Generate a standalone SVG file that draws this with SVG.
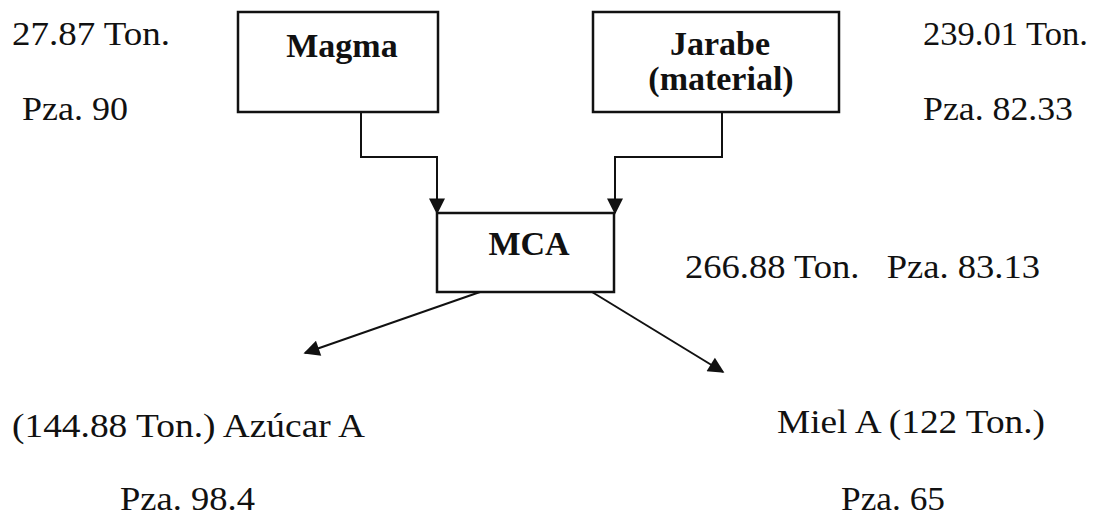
<svg xmlns="http://www.w3.org/2000/svg" width="1109" height="517" viewBox="0 0 1109 517">
<defs>
<style>
.box{fill:#fff;stroke:#111;stroke-width:2.5}
.lbl{font-family:"Liberation Serif","Times New Roman",serif;font-weight:bold;font-size:34px;fill:#111;text-anchor:middle}
.t{font-family:"Liberation Serif","Times New Roman",serif;font-size:33px;fill:#111}
.c{fill:none;stroke:#111;stroke-width:2}
</style>
<marker id="ah" viewBox="0 0 10 10" refX="9" refY="5" markerWidth="9" markerHeight="9" markerUnits="userSpaceOnUse" orient="auto">
<path d="M0,0 L10,5 L0,10 Z" fill="#111"/>
</marker>
<marker id="ah2" viewBox="0 0 10 10" refX="9" refY="5" markerWidth="20" markerHeight="16" markerUnits="userSpaceOnUse" orient="auto">
<path d="M0,0 L10,5 L0,10 Z" fill="#111"/>
</marker>
</defs>
<rect width="1109" height="517" fill="#fff"/>
<g id="magma">
<rect class="box" x="238" y="12" width="200" height="100"/>
<text class="lbl" x="342" y="57">Magma</text>
</g>
<g id="jarabe">
<rect class="box" x="593" y="12" width="246" height="100"/>
<text class="lbl" x="720" y="55">Jarabe</text>
<text class="lbl" x="721" y="90">(material)</text>
</g>
<g id="mca">
<rect class="box" x="437" y="213" width="177" height="79"/>
<text class="lbl" x="529" y="255">MCA</text>
</g>
<g id="connectors">
<path class="c" d="M361,112 V157 H437 V213" marker-end="url(#ah2)"/>
<path class="c" d="M722,112 V157 H615 V213" marker-end="url(#ah2)"/>
<path class="c" d="M480,292 L305,353" marker-end="url(#ah2)"/>
<path class="c" d="M592,292 L723,372" marker-end="url(#ah2)"/>
</g>
<g id="labels">
<text class="t" x="12" y="45" textLength="158" lengthAdjust="spacingAndGlyphs">27.87 Ton.</text>
<text class="t" x="22" y="120" textLength="106" lengthAdjust="spacingAndGlyphs">Pza. 90</text>
<text class="t" x="923" y="45" textLength="165" lengthAdjust="spacingAndGlyphs">239.01 Ton.</text>
<text class="t" x="923" y="120" textLength="150" lengthAdjust="spacingAndGlyphs">Pza. 82.33</text>
<text class="t" x="685" y="278" xml:space="preserve" textLength="355" lengthAdjust="spacingAndGlyphs">266.88 Ton.   Pza. 83.13</text>
<text class="t" x="12" y="437" textLength="353" lengthAdjust="spacingAndGlyphs">(144.88 Ton.) Azúcar A</text>
<text class="t" x="120" y="510" textLength="135" lengthAdjust="spacingAndGlyphs">Pza. 98.4</text>
<text class="t" x="777" y="433" textLength="268" lengthAdjust="spacingAndGlyphs">Miel A (122 Ton.)</text>
<text class="t" x="841" y="510" textLength="104" lengthAdjust="spacingAndGlyphs">Pza. 65</text>
</g>
</svg>
